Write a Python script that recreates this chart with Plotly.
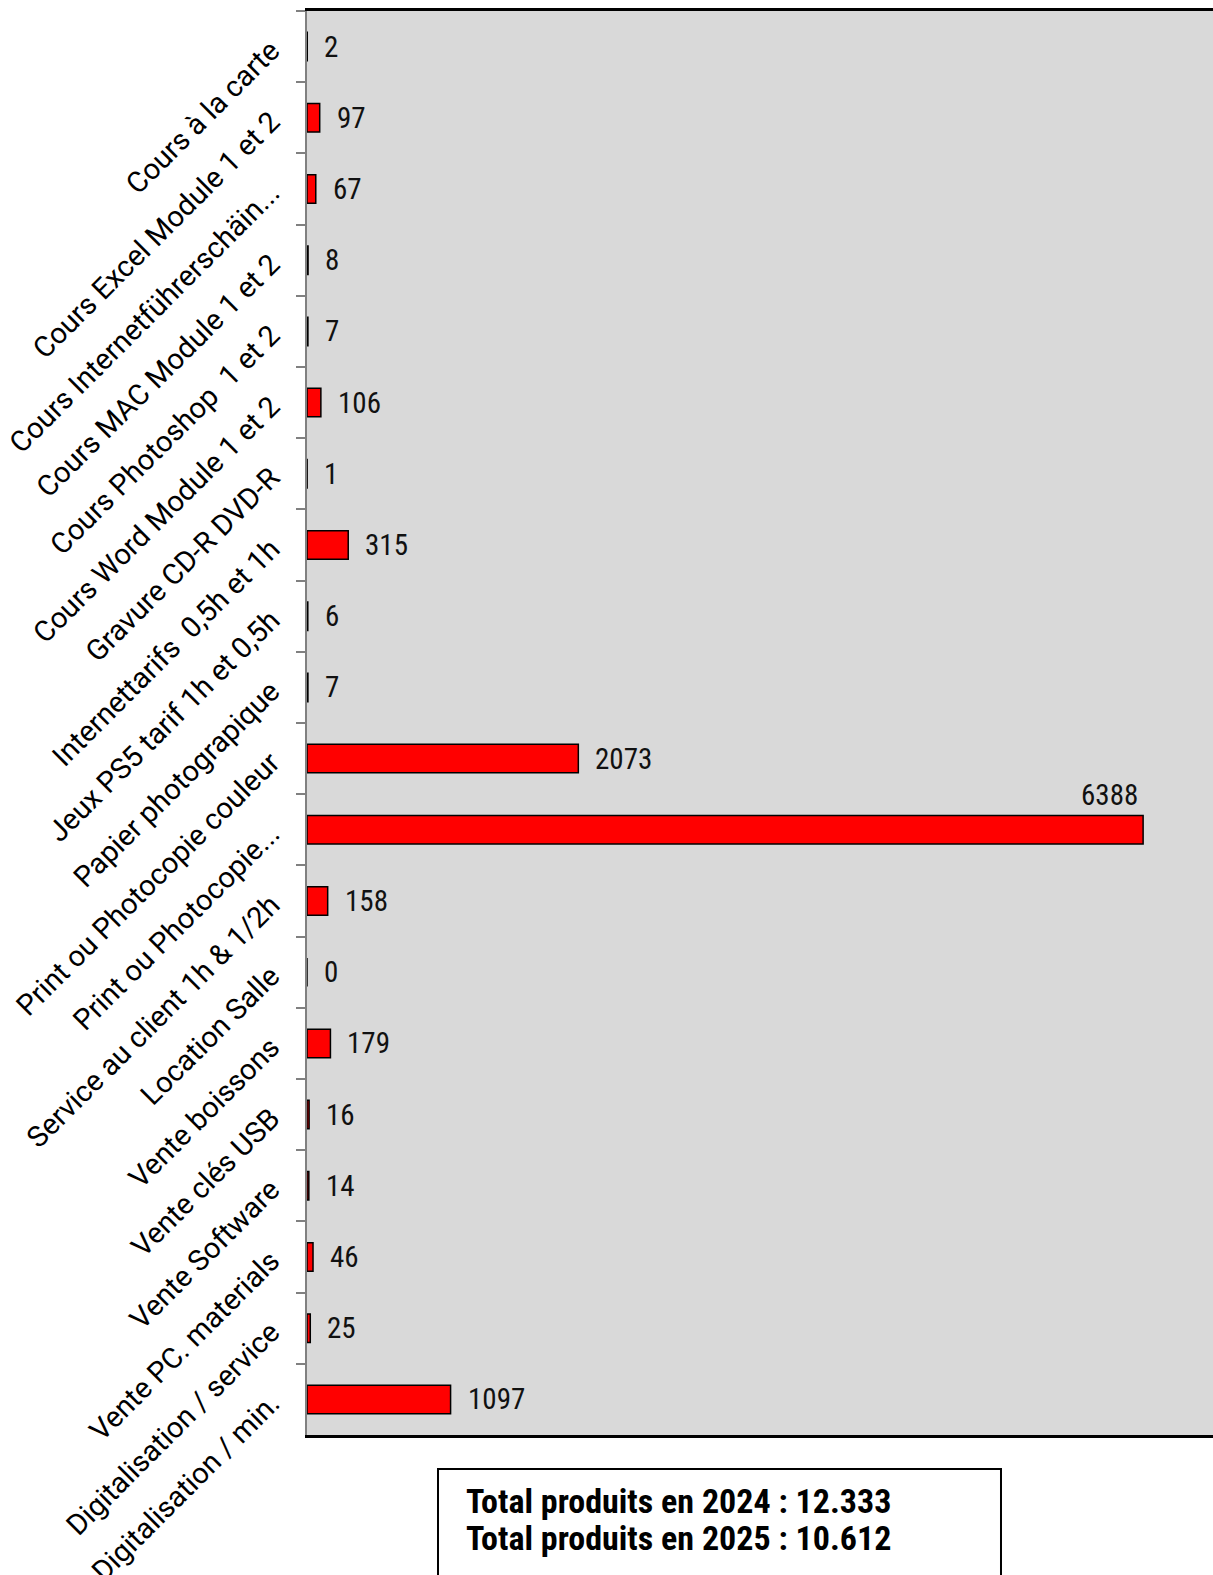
import plotly.graph_objects as go

categories = [
    "Cours à la carte",
    "Cours Excel Module 1 et 2",
    "Cours Internetführerschäin...",
    "Cours MAC Module 1 et 2",
    "Cours Photoshop  1 et 2",
    "Cours Word Module 1 et 2",
    "Gravure CD-R DVD-R",
    "Internettarifs  0,5h et 1h",
    "Jeux PS5 tarif 1h et 0,5h",
    "Papier photograpique",
    "Print ou Photocopie couleur",
    "Print ou Photocopie...",
    "Service au client 1h & 1/2h",
    "Location Salle",
    "Vente boissons",
    "Vente clés USB",
    "Vente Software",
    "Vente PC. materials",
    "Digitalisation / service",
    "Digitalisation / min.",
]
values = [2, 97, 67, 8, 7, 106, 1, 315, 6, 7, 2073, 6388, 158, 0, 179, 16, 14, 46, 25, 1097]
summary_lines = ["Total produits en 2024 : 12.333", "Total produits en 2025 : 10.612"]

FONT = "Roboto Condensed, Roboto, sans-serif"
TICKFONT = "Roboto, sans-serif"
X_MAX = 6922

fig = go.Figure()
fig.add_trace(go.Bar(
    x=values, y=categories, orientation="h",
    marker=dict(color="#FF0000", line=dict(color="#000000", width=1.5)),
    hoverinfo="x+y",
))

annotations = []
for cat, v in zip(categories, values):
    if v > 0.85 * X_MAX:
        annotations.append(dict(x=v, y=cat, xref="x", yref="y", text=str(v),
                                showarrow=False, xanchor="right", yanchor="middle",
                                yshift=35, xshift=-3,
                                font=dict(family=FONT, size=29, color="#111")))
    else:
        annotations.append(dict(x=v, y=cat, xref="x", yref="y", text=str(v),
                                showarrow=False, xanchor="left", yanchor="middle",
                                xshift=15,
                                font=dict(family=FONT, size=29, color="#111")))

for i, line in enumerate(summary_lines):
    annotations.append(dict(x=0.1733, y=-0.0463 - i * 0.026, xref="paper", yref="paper",
                            text="<b>" + line + "</b>", showarrow=False,
                            xanchor="left", yanchor="middle",
                            font=dict(family=FONT, size=34, color="#000")))

fig.update_layout(
    width=1213, height=1575,
    margin=dict(l=307, r=0, t=11, b=140, autoexpand=False),
    paper_bgcolor="white",
    plot_bgcolor="#D9D9D9",
    bargap=0.6,
    showlegend=False,
    annotations=annotations,
    shapes=[dict(type="rect", xref="paper", yref="paper",
                 x0=0.1446, x1=0.766, y0=-0.0239, y1=-0.13,
                 line=dict(color="#000", width=2), fillcolor="rgba(0,0,0,0)")],
    font=dict(family=FONT, color="#000"),
)
fig.update_xaxes(range=[0, X_MAX], showticklabels=False, showgrid=False, zeroline=False,
                 showline=True, linecolor="#000", linewidth=3, mirror=True, ticks="",
                 automargin=False)
fig.update_yaxes(autorange="reversed", tickson="boundaries", ticks="outside", ticklen=9,
                 tickcolor="#808080", tickwidth=2, showline=True, linecolor="#808080",
                 linewidth=2, showgrid=False, tickangle=-45, automargin=False,
                 tickfont=dict(family=TICKFONT, size=29, color="#000"),
                 ticklabelstandoff=28)

fig.write_html("out.html", config={"displayModeBar": False},
               post_script="document.body.style.margin='0';document.body.style.overflow='hidden';")
